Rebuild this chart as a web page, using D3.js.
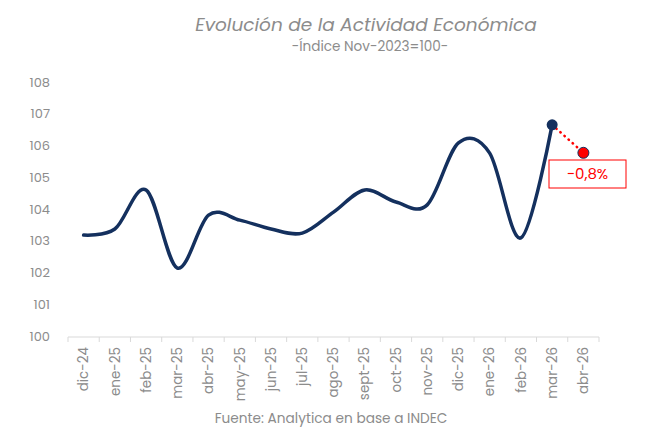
<!doctype html>
<html>
  <head>
    <meta charset="utf-8">
    <title>Evolución de la Actividad Económica</title>
    <style>
      body { margin: 0; background: #fff; }
      svg text { font-family: Poppins, "Open Sans", sans-serif; fill: #8c8c8c; }
    </style>
    <script src="https://cdnjs.cloudflare.com/ajax/libs/d3/7.8.5/d3.min.js"></script>
  </head>
  <body>
    <div id="chart"></div>
    <script>
      const months = ['dic-24', 'ene-25', 'feb-25', 'mar-25', 'abr-25', 'may-25', 'jun-25', 'jul-25',
        'ago-25', 'sept-25', 'oct-25', 'nov-25', 'dic-25', 'ene-26', 'feb-26', 'mar-26', 'abr-26'];
      // indice (nov-2023 = 100), serie hasta mar-26
      const indice = [103.18, 103.37, 104.6, 102.14, 103.81, 103.65, 103.37, 103.24,
        103.9, 104.6, 104.22, 104.13, 106.08, 105.76, 103.09, 106.65];
      // estimacion abr-26
      const estimado = { mes: 'abr-26', valor: 105.77, variacion: '−0,8%' };
      const yTicks = [100, 101, 102, 103, 104, 105, 106, 107, 108];

      const svg = d3.select('#chart').append('svg')
        .attr('width', 647)
        .attr('height', 437);

      const x = d3.scaleBand().domain(months).range([68, 599]);
      const y = d3.scaleLinear().domain([100, 108]).range([336, 82]);
      const cx = m => x(m) + x.bandwidth() / 2;

      svg.append('text')
        .attr('x', 366).attr('y', 31)
        .attr('text-anchor', 'middle')
        .style('font-size', '18.5px')
        .style('font-style', 'italic')
        .text('Evolución de la Actividad Económica');

      svg.append('text')
        .attr('x', 370).attr('y', 51)
        .attr('text-anchor', 'middle')
        .style('font-size', '13.6px')
        .text('-Índice Nov-2023=100-');

      // eje y (solo etiquetas)
      svg.selectAll('.ylab')
        .data(yTicks)
        .enter()
        .append('text')
        .attr('class', 'ylab')
        .attr('x', 50)
        .attr('y', d => y(d))
        .attr('dy', '0.35em')
        .attr('text-anchor', 'end')
        .style('font-size', '13px')
        .text(d => d);

      // eje x
      svg.append('line')
        .attr('x1', 68).attr('x2', 599)
        .attr('y1', 337).attr('y2', 337)
        .attr('stroke', '#d9d9d9').attr('stroke-width', 1);

      const bounds = months.map(m => x(m)).concat([599]);
      svg.selectAll('.xtick')
        .data(bounds)
        .enter()
        .append('line')
        .attr('x1', d => d).attr('x2', d => d)
        .attr('y1', 337).attr('y2', 342)
        .attr('stroke', '#d9d9d9');

      svg.selectAll('.xlab')
        .data(months)
        .enter()
        .append('text')
        .attr('class', 'xlab')
        .attr('transform', d => `translate(${cx(d)},347) rotate(-90)`)
        .attr('dy', '0.35em')
        .attr('text-anchor', 'end')
        .style('font-size', '13.5px')
        .text(d => d);

      // linea principal
      const line = d3.line()
        .x((d, i) => cx(months[i]))
        .y(d => y(d))
        .curve(d3.curveCatmullRom.alpha(0));

      svg.append('path')
        .datum(indice)
        .attr('d', line)
        .attr('fill', 'none')
        .attr('stroke', '#14305e')
        .attr('stroke-width', 3.5)
        .attr('stroke-linecap', 'round');

      const last = indice[indice.length - 1];
      const lastMes = months[indice.length - 1];

      svg.append('line')
        .attr('x1', cx(lastMes)).attr('y1', y(last))
        .attr('x2', cx(estimado.mes)).attr('y2', y(estimado.valor))
        .attr('stroke', '#ff0000')
        .attr('stroke-width', 2.5)
        .attr('stroke-dasharray', '0.5,5')
        .attr('stroke-linecap', 'round');

      svg.append('circle')
        .attr('cx', cx(lastMes)).attr('cy', y(last))
        .attr('r', 5.5)
        .attr('fill', '#14305e');

      svg.append('circle')
        .attr('cx', cx(estimado.mes)).attr('cy', y(estimado.valor))
        .attr('r', 5.5)
        .attr('fill', '#ff0000')
        .attr('stroke', '#14305e')
        .attr('stroke-width', 1);

      svg.append('rect')
        .attr('x', 549).attr('y', 160)
        .attr('width', 77).attr('height', 28)
        .attr('fill', '#fff')
        .attr('stroke', '#ff0000')
        .attr('stroke-width', 1);

      svg.append('text')
        .attr('x', 587.5).attr('y', 174)
        .attr('dy', '0.35em')
        .attr('text-anchor', 'middle')
        .style('font-size', '15px')
        .style('fill', '#ff0000')
        .text(estimado.variacion);

      svg.append('text')
        .attr('x', 331).attr('y', 423)
        .attr('text-anchor', 'middle')
        .style('font-size', '13.7px')
        .text('Fuente: Analytica en base a INDEC');
    </script>
  </body>
</html>
